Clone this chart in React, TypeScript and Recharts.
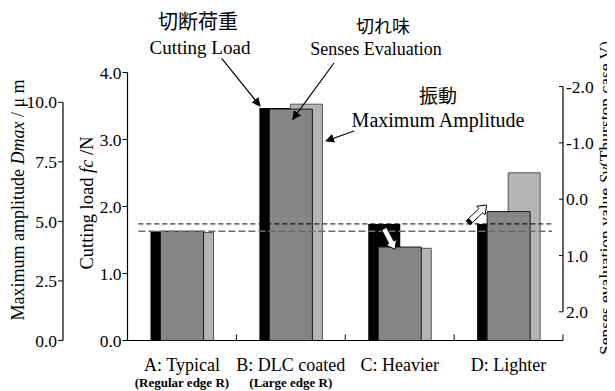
import React from "react";
import {
  ComposedChart,
  Bar,
  XAxis,
  YAxis,
  ReferenceLine,
} from "recharts";

// ---- data ----
const categories = ["A: Typical", "B: DLC coated", "C: Heavier", "D: Lighter"];
const subLabels = ["(Regular edge R)", "(Large edge R)", "", ""];
const cuttingLoad = [1.63, 3.47, 1.74, 1.74]; // fc / N
const sensesValue = [0.57, -1.6, 0.85, 0.22]; // Sv (Thurston case V)
const maxAmplitude = [4.53, 9.92, 3.87, 7.04]; // Dmax / um
const referenceLevels = [1.74, 1.63]; // dashed lines on the cutting-load axis

const fcTicks = [0, 1, 2, 3, 4];
const ampTicks = [0, 2.5, 5, 7.5, 10];
const svTicks = [-2, -1, 0, 1, 2];
// category centres (x.5) carry the labels, integers are the group boundaries
const xTicks = [0.5, 1, 1.5, 2, 2.5, 3, 3.5, 4];

const X_DOMAIN: [number, number] = [0, 4];
const FC_DOMAIN: [number, number] = [0, 4];
const AMP_DOMAIN: [number, number] = [0, 11.25];
const SV_DOMAIN: [number, number] = [-2.25, 2.51];

const FC_ID = "a_fc";
const AMP_ID = "b_amp";
const SV_ID = "c_sv";

const data = categories.map((c, i) => ({
  name: c,
  pos: i + 0.5,
  fc: cuttingLoad[i],
  sv: [SV_DOMAIN[1], sensesValue[i]],
  amp: maxAmplitude[i],
}));

const SERIF = "'Liberation Serif', 'Times New Roman', serif";
const CJK = "'Noto Sans CJK JP', sans-serif";

const XTick = (props: any) => {
  const { x, y, payload } = props;
  const v = payload.value as number;
  if (Number.isInteger(v)) {
    return <line x1={x} y1={y} x2={x} y2={y - 6} stroke="#000" strokeWidth={1} />;
  }
  const idx = Math.floor(v);
  const sub = subLabels[idx];
  return (
    <g>
      <text x={x} y={y + 30.5} textAnchor="middle" fontSize={18} fontFamily={SERIF} fill="#000">
        {categories[idx]}
      </text>
      {sub ? (
        <text x={x} y={y + 46.5} textAnchor="middle" fontSize={13} fontWeight="bold" fontFamily={SERIF} fill="#000">
          {sub}
        </text>
      ) : null}
    </g>
  );
};

function blockArrow(x1: number, y1: number, x2: number, y2: number) {
  const dx = x2 - x1;
  const dy = y2 - y1;
  const len = Math.sqrt(dx * dx + dy * dy);
  const ux = dx / len;
  const uy = dy / len;
  const px = -uy;
  const py = ux;
  const sw = 2.8;
  const hw = 6;
  const hl = 8;
  const bx = x2 - ux * hl;
  const by = y2 - uy * hl;
  const pts = [
    [x1 + px * sw, y1 + py * sw],
    [bx + px * sw, by + py * sw],
    [bx + px * hw, by + py * hw],
    [x2, y2],
    [bx - px * hw, by - py * hw],
    [bx - px * sw, by - py * sw],
    [x1 - px * sw, y1 - py * sw],
  ];
  const cap = [
    [x1 + px * sw, y1 + py * sw],
    [x1 + ux * 3 + px * sw, y1 + uy * 3 + py * sw],
    [x1 + ux * 3 - px * sw, y1 + uy * 3 - py * sw],
    [x1 - px * sw, y1 - py * sw],
  ];
  return (
    <g>
      <polygon points={pts.map((p) => p.join(",")).join(" ")} fill="#fff" stroke="#000" strokeWidth={1} />
      <polygon points={cap.map((p) => p.join(",")).join(" ")} fill="#000" stroke="#000" strokeWidth={1} />
    </g>
  );
}

const Overlay = () => (
  <svg
    width={600}
    height={383}
    style={{ position: "absolute", left: 0, top: 0, pointerEvents: "none", overflow: "visible" }}
  >
    <defs>
      <marker id="ah" viewBox="0 0 10 10" refX="9" refY="5" markerWidth="9" markerHeight="9" orient="auto-start-reverse" markerUnits="userSpaceOnUse">
        <path d="M0,0 L10,5 L0,10 z" fill="#000" />
      </marker>
    </defs>
    {/* axis titles */}
    <text transform="translate(10,192) rotate(-90)" textAnchor="middle" dominantBaseline="central" fontSize={18} fontFamily={SERIF} fill="#000">
      <tspan>Maximum amplitude </tspan>
      <tspan fontStyle="italic">Dmax</tspan>
      <tspan> / μ m</tspan>
    </text>
    <text transform="translate(79,195) rotate(-90)" textAnchor="middle" dominantBaseline="central" fontSize={18.5} fontFamily={SERIF} fill="#000">
      <tspan>Cutting load </tspan>
      <tspan fontStyle="italic">fc</tspan>
      <tspan> /N</tspan>
    </text>
    <text transform="translate(597,190) rotate(-90)" textAnchor="middle" dominantBaseline="central" fontSize={17.5} fontFamily={SERIF} fill="#000">
      <tspan>Senses evaluation value </tspan>
      <tspan fontStyle="italic">Sv</tspan>
      <tspan>(Thurston case V)</tspan>
    </text>

    {/* annotations */}
    <text x={190} y={12} textAnchor="middle" dominantBaseline="central" fontSize={20} fontFamily={CJK} fill="#000">切断荷重</text>
    <text x={192} y={39} textAnchor="middle" dominantBaseline="central" fontSize={19} fontFamily={SERIF} fill="#000">Cutting Load</text>
    <line x1={213.7} y1={50.3} x2={252} y2={98} stroke="#000" strokeWidth={1.2} markerEnd="url(#ah)" />

    <text x={375} y={17} textAnchor="middle" dominantBaseline="central" fontSize={18} fontFamily={CJK} fill="#000">切れ味</text>
    <text x={368} y={41} textAnchor="middle" dominantBaseline="central" fontSize={18} fontFamily={SERIF} fill="#000">Senses Evaluation</text>
    <line x1={326} y1={55} x2={284.7} y2={111.3} stroke="#000" strokeWidth={1.2} markerEnd="url(#ah)" />

    <text x={430} y={86} textAnchor="middle" dominantBaseline="central" fontSize={19} fontFamily={CJK} fill="#000">振動</text>
    <text x={430} y={112} textAnchor="middle" dominantBaseline="central" fontSize={20} fontFamily={SERIF} fill="#000">Maximum Amplitude</text>
    <line x1={346} y1={123} x2={318} y2={133} stroke="#000" strokeWidth={1.2} markerEnd="url(#ah)" />

    {blockArrow(374.7, 218, 387, 241.3)}
    {blockArrow(460.3, 214.7, 478.7, 197)}
  </svg>
);

export default function App() {
  return (
    <div style={{ position: "relative", width: 600, height: 383 }}>
      <ComposedChart
        width={600}
        height={383}
        data={data}
        margin={{ top: 64.5, right: 0, bottom: 0, left: 0 }}
        barGap={-22}
      >
        <XAxis
          dataKey="pos"
          type="number"
          domain={X_DOMAIN}
          ticks={xTicks}
          interval={0}
          allowDataOverflow
          height={50.5}
          tickLine={false}
          tickSize={0}
          tickMargin={0}
          axisLine={{ stroke: "#000", strokeWidth: 1.2 }}
          tick={<XTick />}
        />
        <YAxis
          yAxisId={FC_ID}
          orientation="left"
          width={64.5}
          domain={FC_DOMAIN}
          ticks={fcTicks}
          interval={0}
          allowDataOverflow
          tickFormatter={(v: number) => v.toFixed(1)}
          tickSize={5}
          tickMargin={1}
          tick={{ fontSize: 17.5, fontFamily: SERIF, fill: "#000" }}
          tickLine={{ stroke: "#000" }}
          axisLine={{ stroke: "#000", strokeWidth: 1.2 }}
        />
        <YAxis
          yAxisId={AMP_ID}
          orientation="left"
          width={55}
          domain={AMP_DOMAIN}
          ticks={ampTicks}
          interval={0}
          allowDataOverflow
          tickFormatter={(v: number) => v.toFixed(1)}
          tickSize={5}
          tickMargin={1}
          tick={{ fontSize: 17.5, fontFamily: SERIF, fill: "#000" }}
          tickLine={{ stroke: "#000" }}
          axisLine={{ stroke: "#000", strokeWidth: 1.2, strokeDasharray: "0 29.8 238.2 1000" }}
        />
        <YAxis
          yAxisId={SV_ID}
          orientation="right"
          width={45}
          domain={SV_DOMAIN}
          reversed
          ticks={svTicks}
          interval={0}
          allowDataOverflow
          tickFormatter={(v: number) => v.toFixed(1)}
          tickSize={-4}
          tickMargin={7}
          tick={{ fontSize: 17.5, fontFamily: SERIF, fill: "#000" }}
          tickLine={{ stroke: "#000" }}
          axisLine={{ stroke: "#000", strokeWidth: 1.2, strokeDasharray: "0 14 225.2 1000" }}
        />
        <Bar
          yAxisId={FC_ID}
          dataKey="fc"
          barSize={32}
          fill="#000"
          isAnimationActive={false}
        />
        <Bar
          yAxisId={SV_ID}
          dataKey="sv"
          barSize={43}
          fill="#858585"
          stroke="#1a1a1a"
          strokeWidth={1}
          isAnimationActive={false}
          zIndex={500}
        />
        <Bar
          yAxisId={AMP_ID}
          dataKey="amp"
          barSize={32}
          fill="#b4b4b4"
          stroke="#555"
          strokeWidth={1}
          isAnimationActive={false}
          zIndex={350}
        />
        <ReferenceLine
          yAxisId={FC_ID}
          segment={[{ x: 0.1, y: referenceLevels[0] }, { x: 3.9, y: referenceLevels[0] }]}
          stroke="#000"
          strokeWidth={1}
          strokeDasharray="5 3"
          zIndex={600}
        />
        <ReferenceLine
          yAxisId={FC_ID}
          segment={[{ x: 0.1, y: referenceLevels[1] }, { x: 3.9, y: referenceLevels[1] }]}
          stroke="#6e6e6e"
          strokeWidth={1.6}
          strokeDasharray="7 3"
          zIndex={600}
        />
      </ComposedChart>
      <Overlay />
    </div>
  );
}
